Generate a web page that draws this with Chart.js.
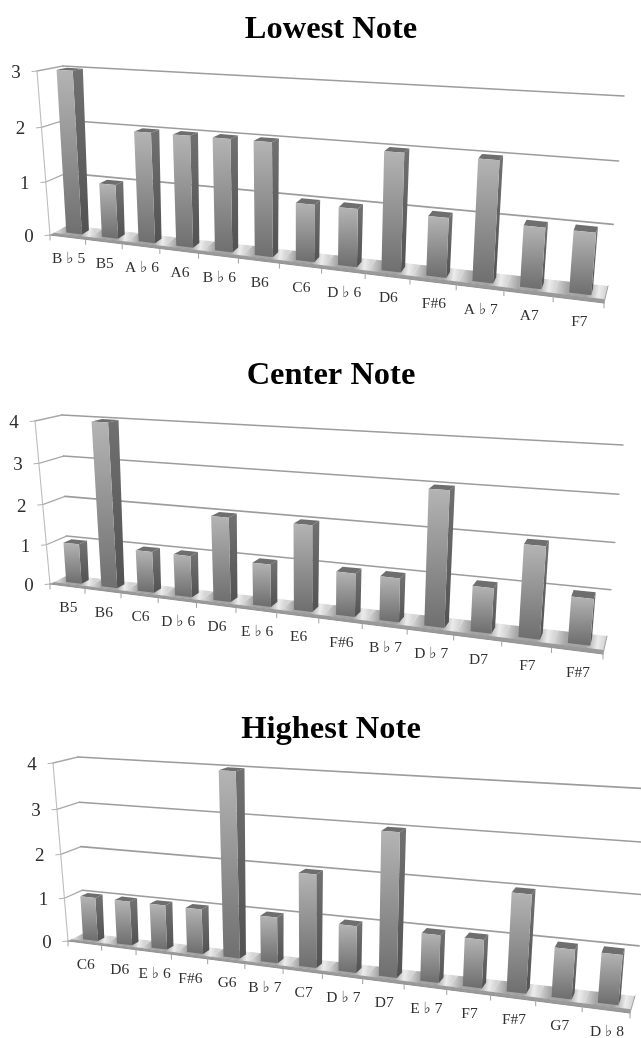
<!DOCTYPE html>
<html><head><meta charset="utf-8">
<style>
html,body{margin:0;padding:0;background:#fff;width:641px;height:1038px;overflow:hidden}
canvas{position:absolute;left:0;display:block;filter:blur(.5px)}
</style>
<script src="https://cdn.jsdelivr.net/npm/chart.js@4/dist/chart.umd.min.js"></script>
</head><body>
<canvas id="c1" width="641" height="345" style="top:0"></canvas>
<canvas id="c2" width="641" height="350" style="top:345px"></canvas>
<canvas id="c3" width="641" height="343" style="top:695px"></canvas>
<script>
const lowestLabels = ['B ♭ 5','B5','A ♭ 6','A6','B ♭ 6','B6','C6','D ♭ 6','D6','F#6','A ♭ 7','A7','F7'];
const lowestValues = [3,1,2,2,2,2,1,1,2,1,2,1,1];
const centerLabels = ['B5','B6','C6','D ♭ 6','D6','E ♭ 6','E6','F#6','B ♭ 7','D ♭ 7','D7','F7','F#7'];
const centerValues = [1,4,1,1,2,1,2,1,1,3,1,2,1];
const highestLabels = ['C6','D6','E ♭ 6','F#6','G6','B ♭ 7','C7','D ♭ 7','D7','E ♭ 7','F7','F#7','G7','D ♭ 8'];
const highestValues = [1,1,1,1,4,1,2,1,3,1,1,2,1,1];
const lowestTicksMax = 3, centerTicksMax = 4, highestTicksMax = 4;

// Page-space corners of the perspective planes: [bottom-left, bottom-right, top-right, top-left]
const planes = {
  c1:{front:[[50,235],[604,303],[620,106],[37,71]], back:[[68,225],[608,286],[624,96],[63,66]], top:0},
  c2:{front:[[50,584],[603,654],[620,455],[35,421]], back:[[68,575],[607,636],[623,445],[62,415]], top:345},
  c3:{front:[[68,941],[630,1013],[649,800],[53,763]], back:[[84,933],[635,996],[652,789],[78,757]], top:695}
};
const DEPTH0 = 0.36, DEPTH1 = 0.76;

function homography(q){
  const [x0,y0]=q[0],[x1,y1]=q[1],[x2,y2]=q[2],[x3,y3]=q[3];
  const dx1=x1-x2,dx2=x3-x2,sx=x0-x1+x2-x3,dy1=y1-y2,dy2=y3-y2,sy=y0-y1+y2-y3;
  const den=dx1*dy2-dx2*dy1;
  const g=(sx*dy2-dx2*sy)/den,h=(dx1*sy-sx*dy1)/den;
  const a=x1-x0+g*x1,b=x3-x0+h*x3,d=y1-y0+g*y1,e=y3-y0+h*y3;
  return (u,v)=>{const w=g*u+h*v+1;return [(a*u+b*v+x0)/w,(d*u+e*v+y0)/w];};
}
function poly(ctx,pts,fill,stroke){
  ctx.beginPath();pts.forEach((p,i)=>i?ctx.lineTo(p[0],p[1]):ctx.moveTo(p[0],p[1]));ctx.closePath();
  if(fill){ctx.fillStyle=fill;ctx.fill();}
  if(stroke){ctx.strokeStyle=stroke;ctx.stroke();}
}
function line(ctx,a,b,color,w){
  ctx.beginPath();ctx.moveTo(a[0],a[1]);ctx.lineTo(b[0],b[1]);ctx.strokeStyle=color;ctx.lineWidth=w;ctx.stroke();
}
const bar3d = {
  id:'bar3d',
  beforeDatasetsDraw(chart){
    const pl=planes[chart.canvas.id], ctx=chart.ctx, xs=chart.scales.x, ys=chart.scales.y;
    const F=homography(pl.front), B=homography(pl.back);
    const P=(u,v,d)=>{const f=F(u,v),b=B(u,v);return [f[0]+(b[0]-f[0])*d, f[1]+(b[1]-f[1])*d-pl.top];};
    const U=x=>(x-xs.left)/xs.width, V=y=>(ys.bottom-y)/ys.height;
    const n=chart.data.labels.length;
    ctx.save();ctx.lineCap='round';

    // walls: gridlines from the value scale
    ys.ticks.forEach(t=>{
      const v=V(ys.getPixelForValue(t.value));
      if(t.value>0){
        line(ctx,P(0,v,0),P(0,v,1),'#a8a8a8',1.3);
        line(ctx,P(0,v,1),P(1,v,1),'#9c9c9c',1.6);
      }
      const a=P(0,v,0);
      line(ctx,a,[a[0]-5,a[1]+.5],'#b0b0b0',1);
      ctx.fillStyle='#2e2e2e';ctx.font='19px "Liberation Serif"';ctx.textAlign='center';ctx.textBaseline='middle';
      ctx.fillText(t.label,a[0]-21,a[1]+2);
    });
    line(ctx,P(0,0,0),P(0,1,0),'#bcbcbc',1.1);

    // floor
    for(let i=0;i<n;i++){
      const u0=i/n,u1=(i+1)/n;
      const a=P(u0,0,.5),b=P(u1,0,.5);
      const g=ctx.createLinearGradient(a[0],a[1],b[0],b[1]);
      g.addColorStop(0,'#d4d4d4');g.addColorStop(.22,'#a6a6a6');g.addColorStop(.62,'#a2a2a2');g.addColorStop(.85,'#ececec');g.addColorStop(1,'#d4d4d4');
      poly(ctx,[P(u0,0,.2),P(u1,0,.2),P(u1,0,1),P(u0,0,1)],g);
    }
    poly(ctx,[P(0,0,0),P(1,0,0),P(1,0,.22),P(0,0,.22)],'#9a9a9a');
    line(ctx,P(1,0,0),P(1,0,1),'#a0a0a0',1);
    line(ctx,P(0,0,0),P(1,0,0),'#909090',1);

    // x ticks and labels from the category scale
    for(let i=0;i<=n;i++){
      const a=P(i/n,0,0);
      line(ctx,a,[a[0],a[1]+5],'#a0a0a0',1);
    }
    ctx.fillStyle='#303030';ctx.font='15.5px "Liberation Serif","DejaVu Serif"';ctx.textAlign='center';ctx.textBaseline='middle';
    chart.data.labels.forEach((lab,i)=>{
      const a=P(U(xs.getPixelForValue(i)),0,0);
      ctx.fillText(lab,a[0]+1,a[1]+22);
    });

    // bars: geometry comes from the bar elements laid out by Chart.js
    chart.getDatasetMeta(0).data.forEach(el=>{
      const u0=U(el.x-el.width/2), u1=U(el.x+el.width/2), v=V(el.y), vb=V(el.base);
      const fbl=P(u0,vb,DEPTH0),fbr=P(u1,vb,DEPTH0),ftr=P(u1,v,DEPTH0),ftl=P(u0,v,DEPTH0);
      const bbr=P(u1,vb,DEPTH1),btr=P(u1,v,DEPTH1),btl=P(u0,v,DEPTH1);
      const sg=ctx.createLinearGradient(0,ftr[1],0,fbr[1]);
      sg.addColorStop(0,'#707070');sg.addColorStop(1,'#525252');
      poly(ctx,[fbr,bbr,btr,ftr],sg);
      poly(ctx,[ftl,ftr,btr,btl],'#6e6e6e');
      const g=ctx.createLinearGradient(0,ftl[1],0,fbl[1]);
      g.addColorStop(0,'#b4b4b4');g.addColorStop(1,'#707070');
      poly(ctx,[fbl,fbr,ftr,ftl],g);
    });
    ctx.restore();
    return false;
  }
};
function makeChart(id,title,labels,values,maxV,titlePad){
  return new Chart(document.getElementById(id),{
    type:'bar',
    data:{labels,datasets:[{data:values,backgroundColor:'#8a8a8a',barPercentage:.44,categoryPercentage:1}]},
    plugins:[bar3d],
    options:{
      responsive:false,animation:false,
      layout:{padding:{left:21,right:0}},
      plugins:{
        legend:{display:false},tooltip:{enabled:false},
        title:{display:true,text:title,color:'#000',fullSize:false,align:'center',
          font:{family:'"Liberation Serif"',size:32.5,weight:'bold'},padding:{top:titlePad,bottom:0}}
      },
      scales:{
        x:{display:false,grid:{offset:true}},
        y:{display:false,min:0,max:maxV,ticks:{stepSize:1}}
      }
    }
  });
}
makeChart('c1','Lowest Note',lowestLabels,lowestValues,lowestTicksMax,10);
makeChart('c2','Center Note',centerLabels,centerValues,centerTicksMax,11);
makeChart('c3','Highest Note',highestLabels,highestValues,highestTicksMax,15);
</script>
</body></html>
